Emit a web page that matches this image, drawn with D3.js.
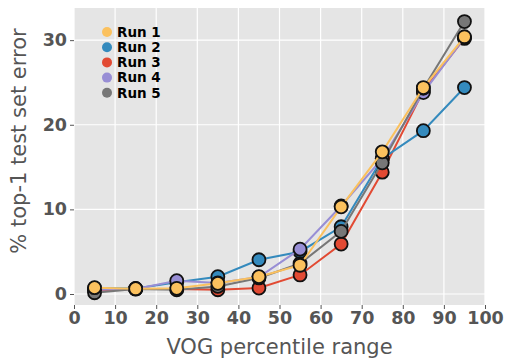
<!DOCTYPE html>
<html>
<head>
<meta charset="utf-8">
<script src="https://cdn.jsdelivr.net/npm/d3@7"></script>
<style>
  body { margin: 0; background: #fff; }
  text { font-family: "DejaVu Sans", sans-serif; }
</style>
</head>
<body>
<script>
const width = 506, height = 363;
const margin = {left: 74, right: 21, top: 8, bottom: 58};
const innerWidth = width - margin.left - margin.right;
const innerHeight = height - margin.top - margin.bottom;

// VOG percentile bin centres
const percentiles = [5, 15, 25, 35, 45, 55, 65, 75, 85, 95];

// % top-1 test set error, one array per run
const run1 = [0.75, 0.63, 0.67, 1.26, 2.05, 3.4, 10.3, 16.8, 24.4, 30.4];
const run2 = [0.7, 0.65, 1.4, 2.05, 4.05, 5.0, 7.95, 16.0, 19.3, 24.4];
const run3 = [0.4, 0.6, 0.6, 0.5, 0.7, 2.25, 5.9, 14.4, 24.0, 30.2];
const run4 = [0.5, 0.6, 1.57, 1.3, 2.0, 5.3, 10.4, 16.0, 23.8, 30.3];
const run5 = [0.15, 0.6, 0.5, 0.9, 1.9, 3.6, 7.4, 15.5, 24.3, 32.2];

const runNames = ["Run 1", "Run 2", "Run 3", "Run 4", "Run 5"];
const runValues = [run1, run2, run3, run4, run5];
const runColors = ["#FBC15E", "#348ABD", "#E24A33", "#988ED5", "#777777"];
// drawing order, last one ends on top
const drawOrder = [2, 1, 3, 4, 0];

const xTicks = [0, 10, 20, 30, 40, 50, 60, 70, 80, 90, 100];
const yTicks = [0, 10, 20, 30];

const svg = d3.select("body").append("svg")
  .attr("width", width)
  .attr("height", height);

const g = svg.append("g")
  .attr("transform", `translate(${margin.left},${margin.top})`);

const x = d3.scaleLinear().domain([0, 100]).range([0, innerWidth]);
const y = d3.scaleLinear().domain([-1.3, 33.8]).range([innerHeight, 0]);

// panel background
g.append("rect")
  .attr("width", innerWidth)
  .attr("height", innerHeight)
  .attr("fill", "#E5E5E5");

// grid
g.selectAll(".vgrid").data(xTicks).join("line")
  .attr("x1", d => x(d)).attr("x2", d => x(d))
  .attr("y1", 0).attr("y2", innerHeight)
  .attr("stroke", "#fff").attr("stroke-width", 1.2);
g.selectAll(".hgrid").data(yTicks).join("line")
  .attr("x1", 0).attr("x2", innerWidth)
  .attr("y1", d => y(d)).attr("y2", d => y(d))
  .attr("stroke", "#fff").attr("stroke-width", 1.2);

// axes
const xAxis = g.append("g")
  .attr("transform", `translate(0,${innerHeight})`)
  .call(d3.axisBottom(x).tickValues(xTicks).tickSize(4).tickPadding(3));
const yAxis = g.append("g")
  .call(d3.axisLeft(y).tickValues(yTicks).tickSize(4).tickPadding(3));

[xAxis, yAxis].forEach(ax => {
  ax.select(".domain").remove();
  ax.selectAll(".tick line").attr("stroke", "#555");
  ax.selectAll(".tick text")
    .attr("fill", "#555")
    .attr("font-family", "DejaVu Sans")
    .attr("font-weight", "bold")
    .attr("font-size", 17.5);
});

// axis labels
svg.append("text")
  .attr("x", margin.left + innerWidth / 2)
  .attr("y", 354)
  .attr("text-anchor", "middle")
  .attr("fill", "#555")
  .attr("font-size", 21)
  .text("VOG percentile range");

svg.append("text")
  .attr("transform", "translate(26,141) rotate(-90)")
  .attr("text-anchor", "middle")
  .attr("fill", "#555")
  .attr("font-size", 21)
  .text("% top-1 test set error");

// lines and markers
const line = d3.line()
  .x((d, i) => x(percentiles[i]))
  .y(d => y(d));

drawOrder.forEach(k => {
  const s = g.append("g");
  s.append("path")
    .attr("d", line(runValues[k]))
    .attr("fill", "none")
    .attr("stroke", runColors[k])
    .attr("stroke-width", 2);
  s.selectAll("circle").data(runValues[k]).join("circle")
    .attr("cx", (d, i) => x(percentiles[i]))
    .attr("cy", d => y(d))
    .attr("r", 6.5)
    .attr("fill", runColors[k])
    .attr("stroke", "#111")
    .attr("stroke-width", 1.8);
});

// legend
const legend = svg.append("g").attr("transform", "translate(107,32)");
runNames.forEach((name, i) => {
  const row = legend.append("g").attr("transform", `translate(0,${i * 15.2})`);
  row.append("circle").attr("r", 5).attr("fill", runColors[i]);
  row.append("text")
    .attr("x", 10)
    .attr("dy", "0.35em")
    .attr("font-weight", "bold")
    .attr("font-size", 13.5)
    .attr("fill", "#000")
    .text(name);
});
</script>
</body>
</html>
